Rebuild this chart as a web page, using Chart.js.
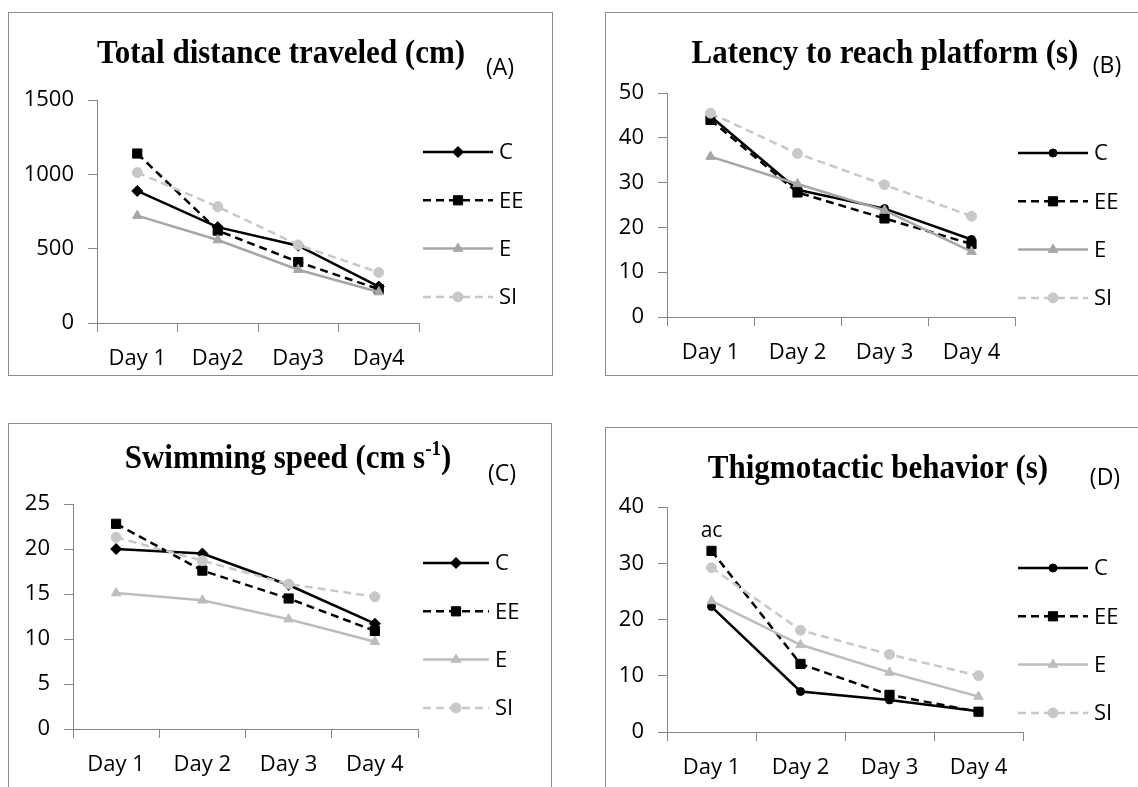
<!DOCTYPE html>
<html>
<head>
<meta charset="utf-8">
<script src="https://cdn.jsdelivr.net/npm/chart.js@4.4.0/dist/chart.umd.min.js"></script>
<style>
  body { margin: 0; background: #fff; width: 1138px; height: 787px; overflow: hidden; position: relative; font-family: 'Open Sans', sans-serif; }
  .panel { position: absolute; border: 1px solid #8c8c8c; }
  .panel canvas { position: absolute; left: 0; top: 0; }
  .title { position: absolute; font-family: 'Liberation Serif', 'Times New Roman', serif; font-weight: bold; font-size: 31px; line-height: 1; white-space: nowrap; transform: translate(-50%, -50%) scaleY(1.07); color: #000; }
  .title sup { font-size: 19px; vertical-align: 12px; line-height: 0; }
  .tag { position: absolute; font-size: 23px; line-height: 1; white-space: nowrap; transform: translate(-50%, -50%); color: #000; }
</style>
</head>
<body>
<div class="panel" id="panel-a"><canvas id="chart-a"></canvas></div>
<div class="panel" id="panel-b"><canvas id="chart-b"></canvas></div>
<div class="panel" id="panel-c"><canvas id="chart-c"></canvas></div>
<div class="panel" id="panel-d"><canvas id="chart-d"></canvas></div>

<div class="title" style="left:281px;top:52px">Total distance traveled (cm)</div>
<div class="tag" style="left:500px;top:66px">(A)</div>
<div class="title" style="left:885px;top:52px">Latency to reach platform (s)</div>
<div class="tag" style="left:1107px;top:64px">(B)</div>
<div class="title" style="left:288px;top:457px">Swimming speed (cm s<sup>-1</sup>)</div>
<div class="tag" style="left:502px;top:472px">(C)</div>
<div class="title" style="left:878px;top:467px">Thigmotactic behavior (s)</div>
<div class="tag" style="left:1105px;top:476px">(D)</div>

<script>
const days = ['Day 1', 'Day 2', 'Day 3', 'Day 4'];
const daysA = ['Day 1', 'Day2', 'Day3', 'Day4'];
const groups = ['C', 'EE', 'E', 'SI'];

// (A) total distance traveled (cm)
const distC = [888, 645, 520, 245];
const distEE = [1140, 622, 410, 228];
const distE = [722, 558, 358, 208];
const distSI = [1012, 782, 525, 340];

// (B) latency to reach platform (s)
const latC = [44.8, 28.4, 24.2, 17.3];
const latEE = [44.0, 27.8, 22.0, 16.3];
const latE = [35.8, 29.7, 23.8, 14.6];
const latSI = [45.5, 36.5, 29.5, 22.5];

// (C) swimming speed (cm/s)
const speedC = [20.0, 19.5, 16.0, 11.7];
const speedEE = [22.8, 17.6, 14.5, 10.9];
const speedE = [15.1, 14.3, 12.2, 9.7];
const speedSI = [21.3, 18.7, 16.1, 14.7];

// (D) thigmotactic behavior (s)
const thigC = [22.3, 7.2, 5.7, 3.7];
const thigEE = [32.2, 12.1, 6.6, 3.6];
const thigE = [23.3, 15.5, 10.6, 6.3];
const thigSI = [29.2, 18.1, 13.8, 10.0];

const yMax = [1500, 50, 25, 40];
const yStep = [500, 10, 5, 10];

const AXIS_GREY = '#868686';
const FONT = 'Open Sans';

/* legend drawn at the right of each panel, Excel style */
const sideLegend = {
    id: 'sideLegend',
    afterDraw(chart, args, opts) {
        const ctx = chart.ctx;
        chart.data.datasets.forEach(function (ds, i) {
            const y = opts.top + i * opts.gap;
            ctx.save();
            ctx.strokeStyle = ds.borderColor;
            ctx.lineWidth = ds.borderWidth;
            ctx.setLineDash(ds.borderDash);
            ctx.beginPath();
            ctx.moveTo(opts.x1, y);
            ctx.lineTo(opts.x2, y);
            ctx.stroke();
            ctx.setLineDash([]);
            ctx.fillStyle = ds.borderColor;
            ctx.lineWidth = 1;
            Chart.helpers.drawPoint(ctx, {pointStyle: ds.pointStyle, radius: ds.pointRadius, borderWidth: 1, rotation: 0}, (opts.x1 + opts.x2) / 2, y);
            ctx.fillStyle = '#000';
            ctx.font = '22px "' + FONT + '"';
            ctx.textBaseline = 'middle';
            ctx.textAlign = 'left';
            ctx.fillText(ds.label, opts.x2 + 6, y + 1);
            ctx.restore();
        });
    }
};

/* small text label above a data point */
const pointNote = {
    id: 'pointNote',
    afterDatasetsDraw(chart, args, opts) {
        if (!opts.text) return;
        const pt = chart.getDatasetMeta(opts.dataset).data[opts.index];
        const ctx = chart.ctx;
        ctx.save();
        ctx.fillStyle = '#000';
        ctx.font = '21px "' + FONT + '"';
        ctx.textAlign = 'center';
        ctx.textBaseline = 'middle';
        ctx.fillText(opts.text, pt.x, pt.y - opts.dy);
        ctx.restore();
    }
};

function makeDatasets(vals, cStyle, eColor) {
    const styles = [
        {color: '#000000', dash: [], point: cStyle, r: cStyle === 'circle' ? 4 : 5.5},
        {color: '#000000', dash: [8, 5], point: 'rect', r: 6.5},
        {color: eColor, dash: [], point: 'triangle', r: 5.5},
        {color: '#c8c8c8', dash: [8, 5], point: 'circle', r: 5}
    ];
    return vals.map(function (v, i) {
        const s = styles[i];
        return {
            label: groups[i],
            data: v,
            borderColor: s.color,
            backgroundColor: s.color,
            pointBackgroundColor: s.color,
            pointBorderColor: s.color,
            borderDash: s.dash,
            borderWidth: 2.5,
            pointStyle: s.point,
            pointRadius: s.r,
            pointBorderWidth: 1,
            tension: 0,
            order: 3 - i
        };
    });
}

// page positions: box = [left, top, width, height], area = [left, top, right, bottom]
const panels = [
    {id: 'a', labels: daysA, series: [distC, distEE, distE, distSI], cStyle: 'rectRot', eColor: '#a6a6a6',
     box: [8, 12, 545, 364], area: [97, 100, 419, 323], legend: [423, 493, 152, 48.3]},
    {id: 'b', labels: days, series: [latC, latEE, latE, latSI], cStyle: 'circle', eColor: '#a6a6a6',
     box: [605, 12, 560, 364], area: [667, 93, 1015, 317], legend: [1018, 1088, 153, 48.3]},
    {id: 'c', labels: days, series: [speedC, speedEE, speedE, speedSI], cStyle: 'rectRot', eColor: '#bdbdbd',
     box: [8, 423, 544, 380], area: [73, 504, 418, 729], legend: [423, 489, 563, 48.3]},
    {id: 'd', labels: days, series: [thigC, thigEE, thigE, thigSI], cStyle: 'circle', eColor: '#bdbdbd',
     box: [605, 427, 560, 380], area: [667, 507, 1023, 732], legend: [1018, 1088, 568, 48.3],
     note: {dataset: 1, index: 0, text: 'ac', dy: 20}}
];

Chart.defaults.font.family = FONT;

panels.forEach(function (p, k) {
    const div = document.getElementById('panel-' + p.id);
    div.style.left = p.box[0] + 'px';
    div.style.top = p.box[1] + 'px';
    div.style.width = (p.box[2] - 2) + 'px';
    div.style.height = (p.box[3] - 2) + 'px';

    const ox = p.box[0] + 1, oy = p.box[1] + 1;
    const cw = p.box[2] - 2, ch = p.box[3] - 2;
    const canvas = document.getElementById('chart-' + p.id);
    canvas.width = cw;
    canvas.height = ch;

    const yWidth = p.area[0] - ox;
    const xHeight = ch - (p.area[3] - oy);

    new Chart(canvas, {
        type: 'line',
        data: {labels: p.labels, datasets: makeDatasets(p.series, p.cStyle, p.eColor)},
        options: {
            responsive: false,
            animation: false,
            devicePixelRatio: 1,
            layout: {padding: {left: 0, top: p.area[1] - oy, right: cw - (p.area[2] - ox), bottom: 0}},
            plugins: {
                legend: {display: false},
                tooltip: {enabled: false},
                sideLegend: {x1: p.legend[0] - ox, x2: p.legend[1] - ox, top: p.legend[2] - oy, gap: p.legend[3]},
                pointNote: p.note || {}
            },
            scales: {
                x: {
                    offset: true,
                    grid: {offset: true, drawOnChartArea: false, drawTicks: true, tickLength: 9, color: AXIS_GREY},
                    border: {display: true, color: AXIS_GREY, width: 1},
                    ticks: {color: '#000', font: {size: 22}, padding: 14, maxRotation: 0, autoSkip: false},
                    afterFit: function (scale) { scale.height = xHeight; }
                },
                y: {
                    min: 0,
                    max: yMax[k],
                    ticks: {stepSize: yStep[k], color: '#000', font: {size: 22}, padding: 14, format: {useGrouping: false}},
                    grid: {drawOnChartArea: false, drawTicks: true, tickLength: 9, color: AXIS_GREY},
                    border: {display: true, color: AXIS_GREY, width: 1},
                    afterFit: function (scale) { scale.width = yWidth; }
                }
            }
        },
        plugins: [sideLegend, pointNote]
    });
});
</script>
</body>
</html>
